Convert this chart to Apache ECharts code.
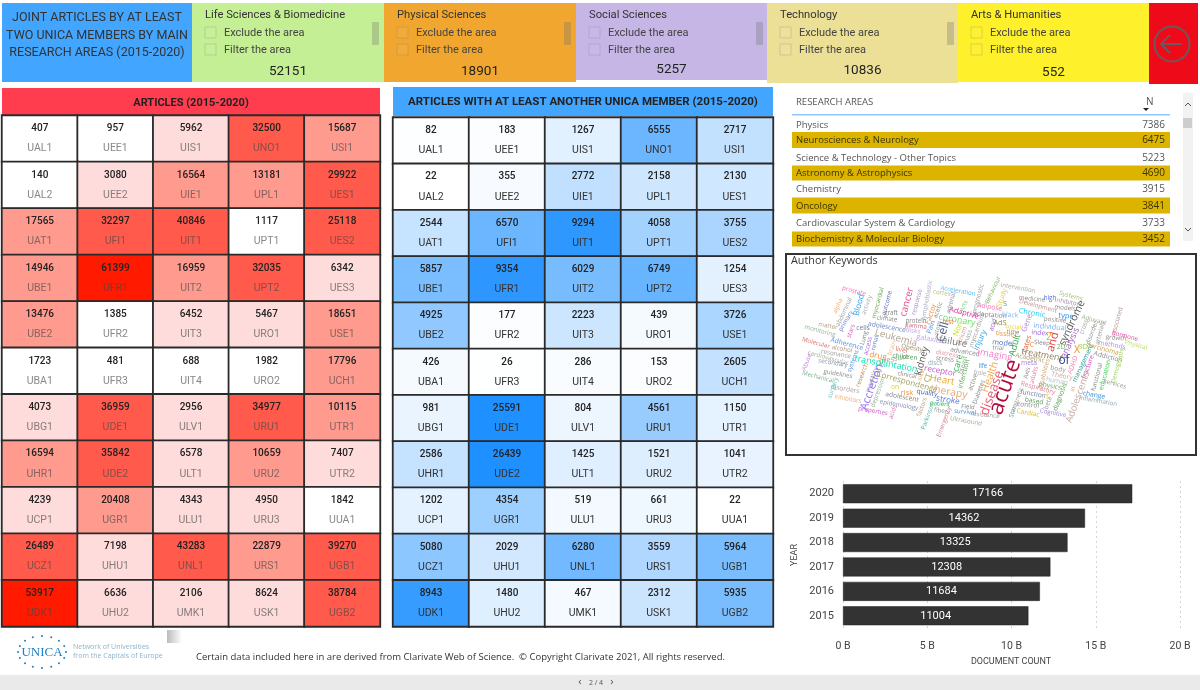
<!DOCTYPE html>
<html lang="en">
<head>
<meta charset="UTF-8" />
<title>UNICA joint articles</title>
<script src="https://cdn.jsdelivr.net/npm/echarts@6/dist/echarts.min.js"></script>
<style>
  html, body { margin: 0; padding: 0; background: #fff; }
  #chart { width: 1200px; height: 690px; }
</style>
</head>
<body>
<div id="chart"></div>
<script>
const unitCodes = [
  ["UAL1", "UEE1", "UIS1", "UNO1", "USI1"],
  ["UAL2", "UEE2", "UIE1", "UPL1", "UES1"],
  ["UAT1", "UFI1", "UIT1", "UPT1", "UES2"],
  ["UBE1", "UFR1", "UIT2", "UPT2", "UES3"],
  ["UBE2", "UFR2", "UIT3", "URO1", "USE1"],
  ["UBA1", "UFR3", "UIT4", "URO2", "UCH1"],
  ["UBG1", "UDE1", "ULV1", "URU1", "UTR1"],
  ["UHR1", "UDE2", "ULT1", "URU2", "UTR2"],
  ["UCP1", "UGR1", "ULU1", "URU3", "UUA1"],
  ["UCZ1", "UHU1", "UNL1", "URS1", "UGB1"],
  ["UDK1", "UHU2", "UMK1", "USK1", "UGB2"],
];
const articleCounts = [
  [407, 957, 5962, 32500, 15687],
  [140, 3080, 16564, 13181, 29922],
  [17565, 32297, 40846, 1117, 25118],
  [14946, 61399, 16959, 32035, 6342],
  [13476, 1385, 6452, 5467, 18651],
  [1723, 481, 688, 1982, 17796],
  [4073, 36959, 2956, 34977, 10115],
  [16594, 35842, 6578, 10659, 7407],
  [4239, 20408, 4343, 4950, 1842],
  [26489, 7198, 43283, 22879, 39270],
  [53917, 6636, 2106, 8624, 38784],
];
const jointCounts = [
  [82, 183, 1267, 6555, 2717],
  [22, 355, 2772, 2158, 2130],
  [2544, 6570, 9294, 4058, 3755],
  [5857, 9354, 6029, 6749, 1254],
  [4925, 177, 2223, 439, 3726],
  [426, 26, 286, 153, 2605],
  [981, 25591, 804, 4561, 1150],
  [2586, 26439, 1425, 1521, 1041],
  [1202, 4354, 519, 661, 22],
  [5080, 2029, 6280, 3559, 5964],
  [8943, 1480, 467, 2312, 5935],
];
const years = ["2015", "2016", "2017", "2018", "2019", "2020"];
const yearCounts = [11004, 11684, 12308, 13325, 14362, 17166];
const researchAreas = [
  "Physics", "Neurosciences & Neurology", "Science & Technology - Other Topics",
  "Astronomy & Astrophysics", "Chemistry", "Oncology",
  "Cardiovascular System & Cardiology", "Biochemistry & Molecular Biology",
];
const researchCounts = [7386, 6475, 5223, 4690, 3915, 3841, 3733, 3452];
const areaNames = ["Life Sciences & Biomedicine", "Physical Sciences", "Social Sciences", "Technology", "Arts & Humanities"];
const areaTotals = [52151, 18901, 5257, 10836, 552];
const keywords = [
  "prostate", "alpha", "abdominal", "primary", "Blood", "activity", "myocardial", "outcome", "graft", "cancer",
  "response", "lymphoblastic", "cortex", "Acceleration", "adrenal", "Arts", "prognostic", "Adaptive", "coronary",
  "Leukemia", "climate", "adolescence", "protein", "gamma", "disks", "Cell", "stem", "Factor", "acetic", "Pain",
  "test", "Non", "atrium", "mass", "myocardium", "cells", "stars", "Lung", "access", "renal", "Obesity", "galaxies",
  "failure", "injury", "acid", "monitoring", "matter", "Molecular", "Adherence", "alcohol", "resonance",
  "cardiovascular", "systems", "Abuse", "secondary", "guidelines", "Mechanical", "drug", "pressure", "children",
  "transplantation", "brain", "liver", "kidney", "distress", "stress", "discs", "care", "breast", "advanced", "life",
  "receptor", "clinical", "research", "mortality", "Accretion", "depression", "Correspondence", "size", "CT", "Heart",
  "therapy", "infarction", "active", "hole", "Diabetes", "Health", "disease", "disorders", "surgery", "inhibitors",
  "risk", "on", "adolescent", "quality", "stroke", "patient", "epidemiology", "properties", "acids", "factors",
  "Parkinson", "fibers", "Emergency", "Field", "survival", "Ultrasound", "resistance", "Behaviour", "intervention",
  "Study", "S", "medicine", "high", "Systems", "inhibitor", "models", "Development", "adipose", "adaptation", "black",
  "Chronic", "type", "Gene", "positive", "Adjuvant", "syndrome", "cross", "disorder", "associated", "arterials",
  "hormone", "growth", "Physical", "AdS", "social", "individual", "index", "2", "and", "time", "tissue", "model",
  "Adult", "Sleep", "2D", "analysis", "3D", "methods", "carcinoma", "rates", "C", "imaging", "trial", "Academic",
  "treatment", "of", "X", "ADHD", "management", "fracture", "Addiction", "functional", "education", "Demography",
  "services", "acute", "meta", "body", "Theory", "human", "physics", "Respiratory", "Axis", "adults", "Disabilities",
  "function", "based", "T", "control", "Cardiac", "Star", "magnetic", "beta", "diagnosis", "Cognitive", "Adolescents",
  "in", "change", "inflammation",
];

// word cloud placement: page x, page y, font size, rotation (deg, ccw), colour
const keywordPlaces = {
  prostate: [854, 291, 8, -15, "#e86fb0"], alpha: [838, 306, 8, 65, "#f0b070"], abdominal: [844, 312, 8, 65, "#999"],
  primary: [846, 321, 8, 60, "#6a7cc4"], Blood: [859, 305, 11, 75, "#2aa0e8"], activity: [867, 305, 8, 70, "#aaa"],
  myocardial: [878, 303, 8, 75, "#6aa84f"], outcome: [887, 303, 8, 75, "#5a6fb0"], graft: [891, 313, 8, 0, "#888"],
  cancer: [907, 302, 13, 75, "#e04890"], response: [917, 302, 8, 75, "#a090c0"], lymphoblastic: [927, 300, 8, 80, "#a8a8c0"],
  cortex: [942, 293, 8, -10, "#b8b880"], Acceleration: [958, 291, 8, -10, "#50b8f0"], adrenal: [951, 303, 8, 75, "#8a8ab0"],
  Arts: [964, 306, 8, 70, "#7cc47c"], prognostic: [978, 299, 8, 75, "#999"], Adaptive: [964, 313, 10, -15, "#d0309a"],
  coronary: [957, 320, 12, -10, "#66e060"], Leukemia: [896, 338, 13, -15, "#b0a090"], climate: [887, 319, 8, -5, "#888"],
  adolescence: [887, 327, 9, -10, "#6a80c0"], protein: [916, 321, 8, 0, "#888"], gamma: [916, 326, 8, -5, "#d06070"],
  disks: [913, 331, 8, -5, "#b8a0e0"], Cell: [943, 332, 16, 75, "#4a5a80"], stem: [938, 328, 8, 75, "#999"],
  Factor: [931, 314, 10, 70, "#f09040"], acetic: [938, 310, 8, 70, "#888"], Pain: [931, 327, 9, 70, "#4090f0"],
  test: [948, 322, 8, 0, "#f07040"], Non: [958, 329, 10, 70, "#c0e020"], atrium: [962, 336, 8, 70, "#c09090"],
  mass: [968, 337, 8, 70, "#999"], myocardium: [977, 330, 8, 70, "#999"], cells: [863, 328, 9, 0, "#7080a0"],
  stars: [851, 331, 8, 70, "#d050b0"], Lung: [864, 338, 8, 75, "#888"], access: [868, 346, 8, 75, "#a060e0"],
  renal: [875, 343, 8, 75, "#6a80c0"], Obesity: [912, 348, 8, -10, "#998870"], galaxies: [930, 339, 10, -10, "#c0a0f0"],
  failure: [953, 342, 13, -10, "#777"], injury: [980, 340, 11, 65, "#30a8e8"], acid: [993, 325, 9, 70, "#a060d0"],
  monitoring: [820, 331, 8, -15, "#90b090"], matter: [828, 326, 8, -10, "#b0a080"], Molecular: [816, 343, 8, -15, "#e07070"],
  Adherence: [847, 344, 9, -15, "#4090f0"], alcohol: [842, 349, 8, -10, "#b09080"], resonance: [836, 354, 8, -10, "#999"],
  cardiovascular: [828, 358, 8, -15, "#aa9"], systems: [853, 361, 8, 70, "#5090e0"], Abuse: [807, 362, 8, 70, "#c080e0"],
  secondary: [833, 363, 8, -10, "#8090b0"], guidelines: [838, 374, 8, -10, "#888"], Mechanical: [818, 377, 8, -15, "#80b090"],
  drug: [878, 356, 11, -10, "#f09040"], pressure: [894, 359, 10, 10, "#90a080"], children: [905, 357, 9, -5, "#50a060"],
  transplantation: [886, 364, 12, -10, "#10e0b0"], brain: [892, 348, 8, 70, "#f0b880"], liver: [902, 350, 9, -10, "#e07060"],
  kidney: [922, 361, 13, 75, "#555"], distress: [947, 354, 8, -10, "#e090a0"], stress: [945, 359, 9, -5, "#888"],
  discs: [935, 363, 8, 0, "#90b0c0"], care: [958, 363, 12, 75, "#20c040"], breast: [963, 365, 8, 75, "#999"],
  advanced: [965, 352, 9, -10, "#888"], life: [983, 366, 8, 0, "#4090e0"], receptor: [940, 371, 11, -10, "#c060c0"],
  clinical: [907, 375, 8, -10, "#888"], research: [862, 375, 8, 70, "#c08050"], mortality: [872, 380, 8, 70, "#999"],
  Accretion: [872, 387, 15, 70, "#8f70f0"], depression: [878, 392, 8, 70, "#90b090"], Correspondence: [907, 382, 11, -15, "#a0a060"],
  size: [921, 375, 8, 70, "#f0a050"], CT: [928, 378, 10, 70, "#90a040"], Heart: [942, 380, 13, -10, "#e8a820"],
  therapy: [949, 392, 14, -10, "#e8a870"], infarction: [964, 374, 9, 75, "#50a050"], active: [973, 382, 9, 70, "#888"],
  hole: [980, 373, 8, -10, "#aaa"], Diabetes: [979, 392, 8, 70, "#888"], Health: [990, 377, 14, 70, "#f0a850"],
  disease: [992, 393, 18, 70, "#e85a70"], disorders: [845, 389, 9, -10, "#b0a0a0"], surgery: [833, 388, 8, 70, "#70c0c0"],
  inhibitors: [848, 399, 8, -10, "#f0b080"], risk: [907, 393, 10, 0, "#f09040"], on: [895, 387, 9, 0, "#e8d020"],
  adolescent: [902, 397, 9, -10, "#888"], quality: [927, 393, 9, -10, "#4060b0"], stroke: [948, 400, 11, -10, "#5070e0"],
  patient: [940, 404, 8, -5, "#30b060"], epidemiology: [899, 405, 8, -10, "#8090b0"], properties: [873, 411, 8, -10, "#d050c0"],
  acids: [893, 412, 8, 70, "#e070c0"], factors: [922, 407, 8, 70, "#b09870"], Parkinson: [928, 416, 8, 70, "#50b0a0"],
  fibers: [942, 411, 8, -10, "#999"], Emergency: [944, 422, 8, 70, "#d08090"], Field: [968, 407, 8, -5, "#888"],
  survival: [965, 412, 8, -5, "#4090e0"], Ultrasound: [966, 421, 8, -10, "#aa9"], resistance: [985, 415, 8, -5, "#999"],
  Behaviour: [993, 290, 8, 65, "#80b060"], intervention: [1018, 288, 8, -10, "#aa9"], Study: [1002, 298, 10, 70, "#e8d040"],
  S: [1005, 304, 10, 0, "#50a0a0"], medicine: [1032, 299, 8, -5, "#888"], high: [1050, 298, 8, 0, "#5070e0"],
  Systems: [1071, 296, 8, -15, "#a0c080"], inhibitor: [1067, 302, 8, -10, "#a090b0"], models: [1065, 308, 8, -5, "#888"],
  Development: [1038, 306, 8, -15, "#c09090"], adipose: [990, 307, 9, -10, "#f070b0"], adaptation: [990, 315, 9, -5, "#888"],
  black: [1010, 315, 9, -5, "#80b8f0"], Chronic: [1032, 313, 10, -10, "#20c8f0"], type: [1066, 316, 10, -5, "#3090f0"],
  Gene: [1027, 323, 10, 70, "#b080e0"], positive: [1055, 320, 8, -5, "#888"], Adjuvant: [1094, 320, 8, -15, "#90b080"],
  syndrome: [1072, 323, 14, 65, "#555"], cross: [1084, 327, 8, 70, "#999"], disorder: [1092, 333, 8, 70, "#888"],
  associated: [1117, 322, 8, 75, "#c09090"], arterials: [1100, 333, 8, 75, "#999"], hormone: [1125, 336, 8, -15, "#e040a0"],
  growth: [1116, 338, 8, -5, "#888"], Physical: [1136, 345, 8, -15, "#c0e060"], AdS: [1000, 323, 10, 0, "#909040"],
  social: [1013, 327, 8, -5, "#e8d040"], individual: [1050, 327, 10, -5, "#80b0f0"], index: [1040, 333, 9, -5, "#a060e0"],
  "2": [1049, 337, 14, 0, "#e0b020"], and: [1053, 342, 15, 75, "#e04040"], time: [1013, 332, 8, -5, "#888"],
  tissue: [1005, 334, 9, -5, "#e09030"], model: [1003, 343, 10, -5, "#5070c0"], Adult: [1015, 345, 12, 75, "#30a040"],
  Sleep: [1042, 343, 8, -5, "#888"], "2D": [1061, 347, 9, 0, "#60c060"], analysis: [1070, 343, 12, 65, "#a060c0"],
  "3D": [1083, 347, 10, 0, "#a0d040"], methods: [1112, 345, 9, -10, "#b090e0"], carcinoma: [1103, 349, 9, -15, "#d0a030"],
  rates: [1027, 344, 10, 75, "#e86030"], C: [1032, 345, 10, 0, "#f09040"], imaging: [995, 355, 13, -10, "#f080d0"],
  trial: [998, 348, 8, -5, "#888"], Academic: [1030, 358, 9, -10, "#b0a070"], treatment: [1042, 355, 12, -10, "#8a7a50"],
  of: [1064, 361, 16, 0, "#2040a0"], X: [1077, 350, 14, 0, "#f09030"], ADHD: [1073, 365, 9, 70, "#f080b0"],
  management: [1083, 363, 9, 65, "#30a0a0"], fracture: [1088, 367, 9, 70, "#e040c0"], Addiction: [1108, 357, 9, -15, "#888"],
  functional: [1097, 377, 8, 75, "#888"], education: [1105, 375, 9, 75, "#30d050"], Demography: [1118, 365, 8, 75, "#a0d060"],
  services: [1115, 384, 8, -15, "#999"], acute: [1005, 387, 30, 70, "#b01040"], meta: [1029, 363, 9, 0, "#a080d0"],
  body: [1058, 369, 9, -10, "#999"], Theory: [1062, 376, 9, -10, "#d0a8a0"], human: [1057, 381, 9, -10, "#b0c0c0"],
  physics: [1050, 386, 9, -10, "#70a060"], Respiratory: [1038, 388, 9, -15, "#e080a0"], Axis: [1027, 373, 8, 75, "#888"],
  adults: [1034, 375, 8, 75, "#e080a0"], Disabilities: [1044, 374, 8, 75, "#d0a070"], function: [1033, 394, 9, -10, "#7080a0"],
  based: [1034, 401, 9, -10, "#60a060"], T: [1047, 397, 9, 0, "#e8c020"], control: [1028, 405, 9, -5, "#888"],
  Cardiac: [1028, 413, 9, -10, "#d8b830"], Star: [1013, 412, 8, 70, "#50a0a0"], magnetic: [1017, 400, 8, 70, "#999"],
  beta: [1048, 403, 8, 70, "#999"], diagnosis: [1060, 397, 9, 70, "#50a050"], Cognitive: [1053, 413, 8, -10, "#a080e0"],
  Adolescents: [1078, 397, 13, 70, "#c8a8a0"], in: [1073, 389, 8, 70, "#e09050"], change: [1094, 395, 9, -10, "#3090e0"],
  inflammation: [1098, 401, 8, -10, "#90a8b0"],
};

const font = "'Open Sans', 'Noto Sans', sans-serif";
const din = "Roboto, sans-serif";
const g = [];

function box(x, y, w, h, fill, extra) {
  g.push({ type: "rect", shape: { x, y, width: w, height: h }, style: Object.assign({ fill }, extra || {}), silent: true });
}
function label(text, x, y, size, fill, opts) {
  const o = opts || {};
  g.push({
    type: "text", x, y, rotation: (o.rot || 0) * Math.PI / 180, silent: true, z: o.z || 5,
    style: {
      text, x: 0, y: 0, fill, font: (o.weight || "normal") + " " + size + "px " + (o.family || font),
      align: o.align || "left", verticalAlign: "middle",
    },
  });
}

// title + the five area filter cards
box(2, 3, 190, 79, "#42a5ff");
["JOINT ARTICLES BY AT LEAST", "TWO UNICA MEMBERS BY MAIN", "RESEARCH AREAS (2015-2020)"].forEach((t, i) => {
  label(t, 97, 18 + i * 17.5, 12.5, "#333", { align: "center", family: din });
});
const cardFill = ["#c5ef94", "#f1a72f", "#c5b6e6", "#ece096", "#fef02b"];
const cardBox = [[192, 3, 192, 79], [384, 3, 192, 79], [576, 3, 191, 77], [767, 3, 191, 80], [958, 3, 191, 79]];
const totalY = [72, 72, 70, 71, 73];
areaNames.forEach((name, i) => {
  const [x, y, w, h] = cardBox[i];
  box(x, y, w, h, cardFill[i]);
  label(name, x + 13, 15.5, 11.2, "#333", { family: din });
  ["Exclude the area", "Filter the area"].forEach((t, j) => {
    box(x + 13, 27 + j * 17, 11, 11, "rgba(255,255,255,0.05)", { stroke: "rgba(120,120,120,0.25)", lineWidth: 1 });
    label(t, x + 32, 33.5 + j * 16.5, 11, "#444", { family: din });
  });
  if (i < 4) box(x + 180, 22, 7, 23, "rgba(110,110,110,0.3)");
  label(String(areaTotals[i]), x + w / 2, totalY[i], 13.5, "#222", { align: "center", family: din });
});
box(1149, 3, 49, 81, "#ef0a1a");
g.push({ type: "circle", shape: { cx: 1172, cy: 44, r: 17.5 }, style: { fill: "none", stroke: "#6a5a5a", lineWidth: 2 }, silent: true });
g.push({ type: "polyline", shape: { points: [[1182, 44], [1161, 44]] }, style: { stroke: "#6a5a5a", lineWidth: 2, fill: "none" }, silent: true });
g.push({ type: "polyline", shape: { points: [[1170, 35], [1161, 44], [1170, 53]] }, style: { stroke: "#6a5a5a", lineWidth: 2, fill: "none" }, silent: true });

// heatmap headers
box(2, 88, 378, 27, "#ff3d4f");
label("ARTICLES (2015-2020)", 191, 103, 11, "#222", { align: "center", weight: "bold", family: din });
box(393, 87, 380, 29, "#42a5ff");
label("ARTICLES WITH AT LEAST ANOTHER UNICA MEMBER (2015-2020)", 583, 102, 11.5, "#222", { align: "center", weight: "bold", family: din });

// research areas table
const rowY = [125.5, 140.5, 158.5, 173.5, 189.5, 206, 223.5, 239.5];
const bandH = [0, 16, 0, 15, 0, 16, 0, 15];
label("RESEARCH AREAS", 796, 102.5, 9.5, "#555");
label("N", 1146, 102, 10, "#555");
g.push({ type: "polygon", shape: { points: [[1143, 108], [1149, 108], [1146, 111]] }, style: { fill: "#222" }, silent: true });
box(792, 114, 378, 1.5, "#90c8ff");
researchAreas.forEach((name, i) => {
  if (bandH[i]) box(792, rowY[i] - 0.5 - bandH[i] / 2, 378, bandH[i], "#dcb400");
  label(name, 796, rowY[i], 9.5, i % 2 ? "#3a3200" : "#555");
  label(String(researchCounts[i]), 1165, rowY[i], 10, i % 2 ? "#3a3200" : "#555", { align: "right" });
});
box(1183, 93, 10, 148, "#f2f2f2");
box(1183, 118, 9, 10, "#cdcdcd");
g.push({ type: "polyline", shape: { points: [[1185, 106], [1188, 103], [1191, 106]] }, style: { stroke: "#555", fill: "none", lineWidth: 1 }, silent: true });
g.push({ type: "polyline", shape: { points: [[1185, 228], [1188, 231], [1191, 228]] }, style: { stroke: "#555", fill: "none", lineWidth: 1 }, silent: true });

// keyword cloud
const cloudScale = 0.74;
box(786, 254, 410, 201, "#fff", { stroke: "#333", lineWidth: 2 });
label("Author Keywords", 791, 261, 10.8, "#333", { z: 6 });
keywords.forEach((w) => {
  const [x, y, size, rot, color] = keywordPlaces[w];
  label(w, x, y, Math.max(6.2, size * cloudScale), color, { align: "center", rot });
});

// footer
const dotCount = 16;
for (let i = 0; i < dotCount; i++) {
  const a = (i / dotCount) * Math.PI * 2;
  g.push({ type: "circle", shape: { cx: 42 + Math.cos(a) * 24, cy: 652 + Math.sin(a) * 16, r: 1 }, style: { fill: "#1f7fc0" }, silent: true });
}
label("UNICA", 42, 653, 13, "#1f7fc0", { align: "center", family: "'Liberation Serif', serif" });
label("Network of Universities", 73, 647, 7, "#8fb4cc");
label("from the Capitals of Europe", 73, 656, 7, "#8fb4cc");
g.push({
  type: "rect", shape: { x: 167, y: 630, width: 15, height: 13 }, silent: true,
  style: { fill: new echarts.graphic.LinearGradient(0, 0, 1, 0, [{ offset: 0, color: "#bbb" }, { offset: 1, color: "#fff" }]) },
});
label("Certain data included here in are derived from Clarivate Web of Science.  \u00a9 Copyright Clarivate 2021, All rights reserved.", 196, 657, 9.5, "#333");
box(0, 675, 1200, 15, "#eaeaea");
label("\u2039", 580, 682, 11, "#555", { align: "center" });
label("2 / 4", 596, 683, 7, "#555", { align: "center" });
label("\u203a", 612, 682, 11, "#555", { align: "center" });

// bar chart captions
label("DOCUMENT COUNT", 1011, 662, 9, "#444", { align: "center", family: din });
label("YEAR", 795, 555, 9, "#444", { align: "center", rot: 90, family: din });

function cells(rows) {
  const out = [];
  rows.forEach((row, r) => row.forEach((v, c) => out.push([c, r, v, unitCodes[r][c]])));
  return out;
}
function tileSeries(grid, rows, codeColor) {
  return {
    type: "heatmap", xAxisIndex: grid, yAxisIndex: grid, data: cells(rows),
    itemStyle: { borderColor: "#2a2a2a", borderWidth: 1.8 },
    emphasis: { disabled: true },
    label: {
      show: true,
      formatter: (p) => "{v|" + p.data[2] + "}\n{c|" + p.data[3] + "}",
      rich: {
        v: { fontFamily: din, fontSize: 10, fontWeight: 500, color: "#222", lineHeight: 20 },
        c: { fontFamily: din, fontSize: 10.5, color: codeColor, lineHeight: 20 },
      },
    },
  };
}
const cols = [0, 1, 2, 3, 4].map(String);
const rowsIdx = unitCodes.map((_, i) => String(i));
const hiddenCat = (data, inverse) => ({ type: "category", data, inverse, show: false, gridIndex: 0 });

const chart = echarts.init(document.getElementById("chart"), null, { renderer: "canvas" });
chart.setOption({
  animation: false,
  backgroundColor: "#fff",
  graphic: { elements: g },
  grid: [
    { left: 2, top: 115.5, width: 378, height: 511 },
    { left: 393, top: 117.5, width: 380, height: 509 },
    { left: 843, top: 481.5, width: 337, height: 146.5 },
  ],
  xAxis: [
    Object.assign(hiddenCat(cols, false), { gridIndex: 0 }),
    Object.assign(hiddenCat(cols, false), { gridIndex: 1 }),
    {
      type: "value", gridIndex: 2, min: 0, max: 20000, interval: 5000,
      axisLine: { show: false }, axisTick: { show: false },
      splitLine: { show: true, lineStyle: { type: [1, 4], color: "#aaa" } },
      axisLabel: { formatter: (v) => v / 1000 + " B", color: "#444", fontFamily: din, fontSize: 10.5, margin: 13 },
    },
  ],
  yAxis: [
    Object.assign(hiddenCat(rowsIdx, true), { gridIndex: 0 }),
    Object.assign(hiddenCat(rowsIdx, true), { gridIndex: 1 }),
    {
      type: "category", gridIndex: 2, data: years,
      axisLine: { show: false }, axisTick: { show: false },
      axisLabel: { color: "#444", fontFamily: din, fontSize: 11, margin: 9 },
    },
  ],
  visualMap: [
    {
      show: false, type: "piecewise", seriesIndex: 0, dimension: 2,
      pieces: [
        { lt: 2000, color: "#ffffff" },
        { gte: 2000, lt: 10000, color: "#ffdcdc" },
        { gte: 10000, lt: 25000, color: "#ff9a8e" },
        { gte: 25000, lt: 50000, color: "#ff5a4c" },
        { gte: 50000, color: "#ff1a00" },
      ],
    },
    {
      show: false, type: "continuous", seriesIndex: 1, dimension: 2, min: 0, max: 10000,
      inRange: { color: ["#ffffff", "#1e90ff"] }, outOfRange: { color: "#0f8cff" },
    },
  ],
  series: [
    tileSeries(0, articleCounts, "rgba(70,70,70,0.65)"),
    tileSeries(1, jointCounts, "#333"),
    {
      type: "bar", xAxisIndex: 2, yAxisIndex: 2, data: yearCounts, barWidth: 19,
      itemStyle: { color: "#333333", borderColor: "#222", borderWidth: 0.5 },
      emphasis: { disabled: true },
      label: { show: true, position: "inside", color: "#fff", fontFamily: din, fontSize: 11 },
    },
  ],
});
</script>
</body>
</html>
